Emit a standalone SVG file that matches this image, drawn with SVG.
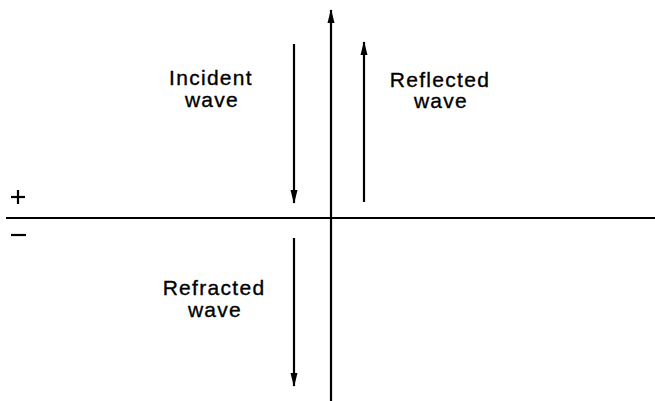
<svg xmlns="http://www.w3.org/2000/svg" width="655" height="401" viewBox="0 0 655 401">
<style>
.ln{stroke:#000;stroke-width:2.2;fill:none}
.lbl{font-family:"Liberation Sans",Arial,sans-serif;font-size:21px;letter-spacing:1.3px;fill:#000;stroke:#000;stroke-width:0.35;text-anchor:middle}
</style>
<defs>
<marker id="ah" markerWidth="14" markerHeight="8" refX="13" refY="4" orient="auto" markerUnits="userSpaceOnUse" viewBox="0 0 14 8">
<path d="M0,0.5 L14,4 L0,7.5 Z" fill="#000"/>
</marker>
</defs>
<rect width="655" height="401" fill="#fff"/>
<g id="connectors">
<line id="boundary" class="ln" x1="6" y1="218" x2="655" y2="218"/>
<line id="axis" class="ln" x1="331" y1="401" x2="331" y2="10" marker-end="url(#ah)"/>
<line id="incident" class="ln" x1="294" y1="44" x2="294" y2="203" marker-end="url(#ah)"/>
<line id="reflected" class="ln" x1="364" y1="202" x2="364" y2="42" marker-end="url(#ah)"/>
<line id="refracted" class="ln" x1="294" y1="238" x2="294" y2="386" marker-end="url(#ah)"/>
</g>
<g id="incident-label"><text class="lbl" x="211" y="85">Incident</text><text class="lbl" x="212" y="107">wave</text></g>
<g id="reflected-label"><text class="lbl" x="440" y="87">Reflected</text><text class="lbl" x="441" y="108">wave</text></g>
<g id="refracted-label"><text class="lbl" x="214" y="295">Refracted</text><text class="lbl" x="215" y="317">wave</text></g>
<g id="plus"><line class="ln" x1="11" y1="197" x2="25" y2="197"/><line class="ln" x1="18" y1="190" x2="18" y2="204"/></g>
<g id="minus"><line class="ln" x1="11" y1="235" x2="26" y2="235"/></g>
</svg>
